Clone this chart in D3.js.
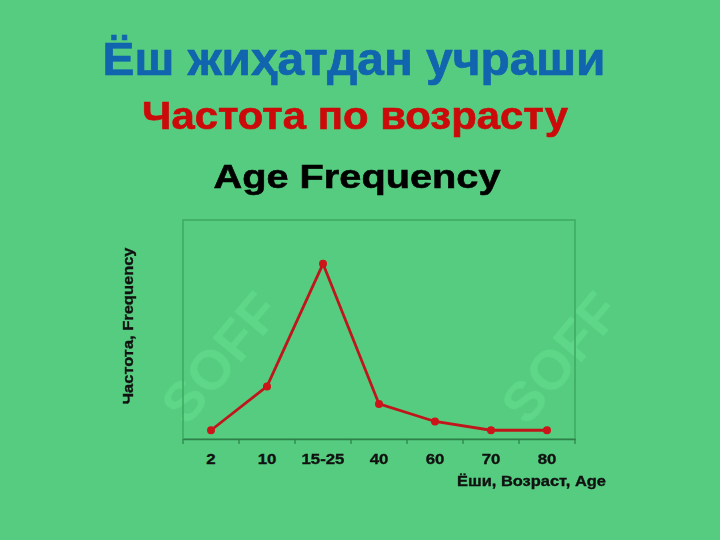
<!DOCTYPE html>
<html>
<head>
<meta charset="utf-8">
<script src="https://cdn.jsdelivr.net/npm/d3@7"></script>
<style>
html,body{margin:0;padding:0;background:#55cc7f;}
svg{display:block;}
text{font-family:"Liberation Sans", Arial, sans-serif;font-weight:bold;}
</style>
</head>
<body>
<svg id="chart" width="720" height="540"></svg>
<script>
const categories = ["2", "10", "15-25", "40", "60", "70", "80"];
const frequency = [4, 24, 80, 16, 8, 4, 4];
const titleUz = "Ёш жиҳатдан учраши";
const titleRu = "Частота по возрасту";
const titleEn = "Age Frequency";
const xLabel = "Ёши, Возраст, Age";
const yLabel = "Частота, Frequency";

const svg = d3.select("#chart");
const W = 720, H = 540;
svg.append("rect").attr("width", W).attr("height", H).attr("fill", "#55cc7f");

// faint watermarks
const wm = svg.append("g").attr("fill", "#6ee89a").attr("opacity", 0.4);
[[235, 370], [575, 370]].forEach(([x, y]) => {
  wm.append("text").attr("transform", `translate(${x},${y}) rotate(-50)`)
    .attr("text-anchor", "middle").attr("font-size", 56).text("SOFF");
});

const ml = 183, mr = 575, mt = 220, mb = 439;
const x = d3.scaleBand().domain(categories).range([ml, mr]);
const y = d3.scaleLinear().domain([0, 100]).range([mb, mt]);

// frame
svg.append("rect").attr("x", ml).attr("y", mt).attr("width", mr - ml).attr("height", mb - mt)
  .attr("fill", "none").attr("stroke", "#3fa862").attr("stroke-width", 1.5);

// x axis
const xAxis = svg.append("g").attr("transform", `translate(0,${mb})`)
  .call(d3.axisBottom(x).tickSize(0).tickPadding(14));
xAxis.select(".domain").attr("stroke", "#2e7f4a").attr("stroke-width", 1.5);
xAxis.selectAll("text").style("font-family", "'Liberation Sans', Arial, sans-serif")
  .style("font-weight", "bold").attr("font-size", 15).attr("fill", "#111")
  .attr("stroke", "#111").attr("stroke-width", 0.35)
  .attr("transform", "scale(1.12,1)");
// boundary ticks
const bounds = categories.map(c => x(c)).concat([mr]);
svg.append("g").selectAll("line").data(bounds).join("line")
  .attr("x1", d => d).attr("x2", d => d).attr("y1", mb).attr("y2", mb + 5)
  .attr("stroke", "#2e7f4a").attr("stroke-width", 1.2);

// line
const cx = d => x(d) + x.bandwidth() / 2;
const line = d3.line().x((d, i) => cx(categories[i])).y(d => y(d));
svg.append("path").datum(frequency).attr("d", line)
  .attr("fill", "none").attr("stroke", "#c0161b").attr("stroke-width", 2.8);
svg.append("g").selectAll("circle").data(frequency).join("circle")
  .attr("cx", (d, i) => cx(categories[i])).attr("cy", d => y(d)).attr("r", 4)
  .attr("fill", "#cc1419");

// titles
svg.append("text").attr("x", 354).attr("y", 75).attr("text-anchor", "middle")
  .attr("font-size", 46).attr("textLength", 503).attr("lengthAdjust", "spacingAndGlyphs")
  .attr("fill", "#1164ae").attr("stroke", "#1164ae").attr("stroke-width", 0.7).text(titleUz);
svg.append("text").attr("x", 355).attr("y", 129).attr("text-anchor", "middle")
  .attr("font-size", 38).attr("textLength", 426).attr("lengthAdjust", "spacingAndGlyphs")
  .attr("fill", "#cc0a0a").attr("stroke", "#cc0a0a").attr("stroke-width", 0.6).text(titleRu);
svg.append("text").attr("x", 357).attr("y", 188).attr("text-anchor", "middle")
  .attr("font-size", 34).attr("textLength", 287).attr("lengthAdjust", "spacingAndGlyphs")
  .attr("fill", "#000").attr("stroke", "#000").attr("stroke-width", 0.6).text(titleEn);

// axis titles
svg.append("text").attr("x", 457).attr("y", 486)
  .attr("font-size", 14.5).attr("textLength", 149).attr("lengthAdjust", "spacingAndGlyphs")
  .attr("fill", "#111").attr("stroke", "#111").attr("stroke-width", 0.35).text(xLabel);
svg.append("text").attr("transform", "translate(133,326) rotate(-90)").attr("text-anchor", "middle")
  .attr("font-size", 15).attr("textLength", 157).attr("lengthAdjust", "spacingAndGlyphs")
  .attr("fill", "#111").attr("stroke", "#111").attr("stroke-width", 0.35).text(yLabel);
</script>
</body>
</html>
